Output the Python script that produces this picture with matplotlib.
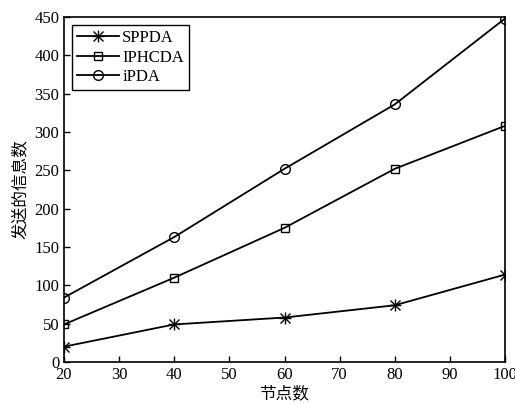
import matplotlib
matplotlib.use("Agg")
import matplotlib.pyplot as plt
from matplotlib.lines import Line2D

# data
nodes = [20, 40, 60, 80, 100]
sppda = [20, 49, 58, 74, 114]
iphcda = [49, 110, 175, 252, 308]
ipda = [84, 163, 252, 336, 448]

plt.rcParams['font.family'] = ['Liberation Serif', 'Noto Sans CJK SC']
plt.rcParams['xtick.direction'] = 'in'
plt.rcParams['ytick.direction'] = 'in'

fig = plt.figure(figsize=(5.15, 4.04), dpi=100)
ax = fig.add_axes([64 / 515, 1 - 362 / 404, 441 / 515, 345 / 404])

ax.plot(nodes, sppda, color='black', lw=1.3, marker='x', ms=6.5, mew=1.0)
ax.plot(nodes, sppda, color='black', lw=0, marker='+', ms=8.5, mew=1.0)
ax.plot(nodes, iphcda, color='black', lw=1.3, marker='s', ms=5.5, mfc='none', mew=1.0)
ax.plot(nodes, ipda, color='black', lw=1.3, marker='o', ms=7, mfc='none', mew=1.0)

ax.set_xlim(20, 100)
ax.set_ylim(0, 450)
ax.set_xticks(range(20, 101, 10))
ax.set_yticks(range(0, 451, 50))
ax.tick_params(labelsize=12, length=4, width=1)
for s in ax.spines.values():
    s.set_linewidth(1.2)

ax.set_xlabel('节点数', family=['Noto Sans CJK SC'], fontsize=12, labelpad=2)
ax.set_ylabel('发送的信息数', family=['Noto Sans CJK SC'], fontsize=12, labelpad=4)

# combined star marker handle for legend
handles = [
    (Line2D([], [], color='black', lw=1.3, marker='x', ms=6.5, mew=1.0),
     Line2D([], [], color='black', lw=0, marker='+', ms=8.5, mew=1.0)),
    Line2D([], [], color='black', lw=1.3, marker='s', ms=5.5, mfc='none', mew=1.0),
    Line2D([], [], color='black', lw=1.3, marker='o', ms=7, mfc='none', mew=1.0),
]
leg = ax.legend(handles, ['SPPDA', 'IPHCDA', 'iPDA'], loc='upper left', fontsize=12,
                fancybox=False, edgecolor='black', framealpha=1, borderpad=0.3,
                labelspacing=0.2, handlelength=2.5, handletextpad=0.2, borderaxespad=0.5)
leg.get_frame().set_linewidth(1.0)

fig.savefig('out.png', dpi=100)
